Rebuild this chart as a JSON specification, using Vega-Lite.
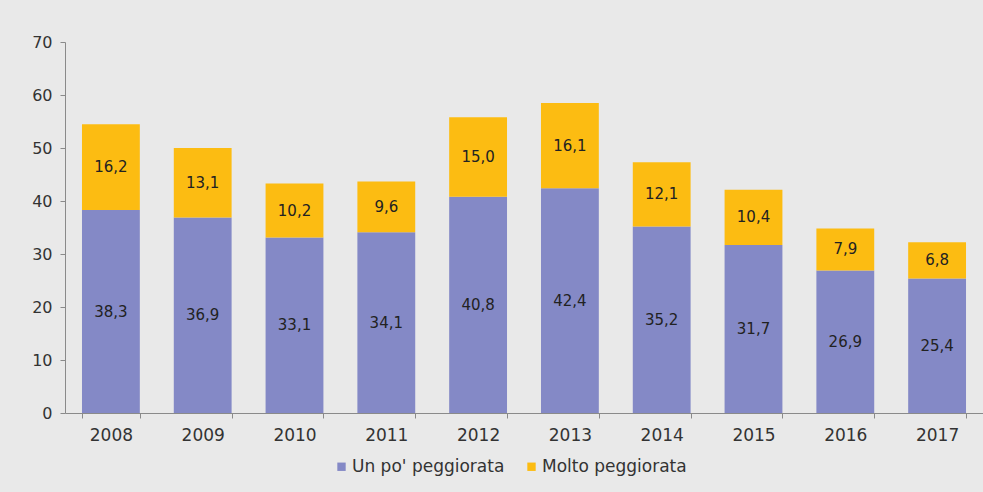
{
  "$schema": "https://vega.github.io/schema/vega-lite/v6.json",
  "autosize": {"type": "none"},
  "width": 918,
  "height": 371,
  "padding": {"left": 65, "top": 42, "right": 0, "bottom": 79},
  "background": "#e9e9e9",
  "config": {
    "view": {"stroke": null},
    "font": "DejaVu Sans",
    "locale": {"number": {"decimal": ",", "thousands": ".", "grouping": [3], "currency": ["€", ""]}}
  },
  "data": {
    "values": [
      {"anno": "2008", "serie": "Un po' peggiorata", "ord": 1, "valore": 38.3},
      {"anno": "2008", "serie": "Molto peggiorata", "ord": 2, "valore": 16.2},
      {"anno": "2009", "serie": "Un po' peggiorata", "ord": 1, "valore": 36.9},
      {"anno": "2009", "serie": "Molto peggiorata", "ord": 2, "valore": 13.1},
      {"anno": "2010", "serie": "Un po' peggiorata", "ord": 1, "valore": 33.1},
      {"anno": "2010", "serie": "Molto peggiorata", "ord": 2, "valore": 10.2},
      {"anno": "2011", "serie": "Un po' peggiorata", "ord": 1, "valore": 34.1},
      {"anno": "2011", "serie": "Molto peggiorata", "ord": 2, "valore": 9.6},
      {"anno": "2012", "serie": "Un po' peggiorata", "ord": 1, "valore": 40.8},
      {"anno": "2012", "serie": "Molto peggiorata", "ord": 2, "valore": 15.0},
      {"anno": "2013", "serie": "Un po' peggiorata", "ord": 1, "valore": 42.4},
      {"anno": "2013", "serie": "Molto peggiorata", "ord": 2, "valore": 16.1},
      {"anno": "2014", "serie": "Un po' peggiorata", "ord": 1, "valore": 35.2},
      {"anno": "2014", "serie": "Molto peggiorata", "ord": 2, "valore": 12.1},
      {"anno": "2015", "serie": "Un po' peggiorata", "ord": 1, "valore": 31.7},
      {"anno": "2015", "serie": "Molto peggiorata", "ord": 2, "valore": 10.4},
      {"anno": "2016", "serie": "Un po' peggiorata", "ord": 1, "valore": 26.9},
      {"anno": "2016", "serie": "Molto peggiorata", "ord": 2, "valore": 7.9},
      {"anno": "2017", "serie": "Un po' peggiorata", "ord": 1, "valore": 25.4},
      {"anno": "2017", "serie": "Molto peggiorata", "ord": 2, "valore": 6.8}
    ]
  },
  "transform": [
    {"stack": "valore", "groupby": ["anno"], "sort": [{"field": "ord"}], "as": ["y0", "y1"]},
    {"calculate": "(datum.y0 + datum.y1) / 2", "as": "ymid"}
  ],
  "encoding": {
    "x": {
      "field": "anno", "type": "ordinal", "title": null,
      "scale": {"paddingInner": 0.37, "paddingOuter": 0.185},
      "axis": {
        "labelAngle": 0, "labelFontSize": 17, "labelColor": "#333333", "labelPadding": 9,
        "tickBand": "extent", "tickSize": 5, "tickColor": "#8a8a8a", "domainColor": "#8a8a8a"
      }
    }
  },
  "layer": [
    {
      "mark": {"type": "bar"},
      "encoding": {
        "y": {
          "field": "y0", "type": "quantitative", "title": null,
          "scale": {"domain": [0, 70]},
          "axis": {
            "values": [0, 10, 20, 30, 40, 50, 60, 70], "grid": false,
            "labelFontSize": 16, "labelColor": "#333333", "labelPadding": 8,
            "tickSize": 5, "tickColor": "#8a8a8a", "domainColor": "#8a8a8a"
          }
        },
        "y2": {"field": "y1"},
        "color": {
          "field": "serie", "type": "nominal",
          "scale": {"domain": ["Un po' peggiorata", "Molto peggiorata"], "range": ["#8489c6", "#fcbc12"]},
          "legend": {
            "title": null, "orient": "none", "direction": "horizontal",
            "legendX": 268, "legendY": 416,
            "symbolType": "square", "symbolSize": 70, "symbolStrokeWidth": 0,
            "labelFontSize": 17, "labelColor": "#333333", "columnPadding": 18, "labelOffset": 2
          }
        }
      }
    },
    {
      "mark": {"type": "text", "fontSize": 15, "color": "#222222", "baseline": "middle"},
      "encoding": {
        "y": {"field": "ymid", "type": "quantitative"},
        "text": {"field": "valore", "type": "quantitative", "format": ".1f"}
      }
    }
  ]
}
